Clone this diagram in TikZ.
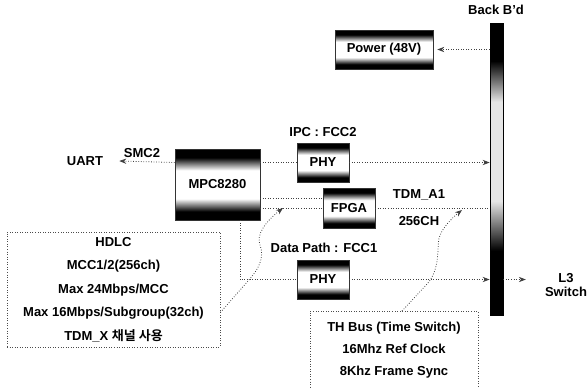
\documentclass[tikz,border=0pt]{standalone}
\usepackage{fontspec}
\setmainfont{Liberation Sans}
\newfontfamily\krfont{Noto Sans CJK KR}[BoldFont={* Bold}]
\usetikzlibrary{arrows.meta}

\pgfdeclareverticalshading{chip}{100bp}{color(0bp)=(black); color(31bp)=(black); color(40bp)=(white); color(60bp)=(white); color(69bp)=(black); color(100bp)=(black)}
\pgfdeclareverticalshading{backbd}{100bp}{color(0bp)=(black); color(36bp)=(black); color(44.5bp)=(black!10); color(61.5bp)=(black!10); color(68.5bp)=(black); color(100bp)=(black)}

\begin{document}
\begin{tikzpicture}[x=0.2mm,y=-0.2mm,
  font=\bfseries\fontsize{7.4}{9}\selectfont,
  chip/.style={shade,shading=chip,draw=black!80,line width=0.3pt,inner sep=0pt,minimum width=10.4mm,minimum height=7.8mm},
  link/.style={densely dotted,line width=0.45pt,black!75},
  note/.style={draw=black!70,densely dotted,line width=0.45pt,align=center,inner sep=0pt},
  tip/.style={-{Stealth[length=4pt,width=3pt]}}]

\useasboundingbox (0,0) rectangle (587,387);

% back board
\node[shade,shading=backbd,draw=black,minimum width=2.6mm,minimum height=58.4mm,inner sep=0pt] (bar) at (496.5,169) {};
\node (bbd) at (496,10) {Back B'd};

% blocks
\node[chip,minimum width=19.6mm] (power) at (384,49.5) {Power (48V)};
\node[chip,minimum width=17mm,minimum height=14.2mm] (mpc) at (217.5,184.5) {MPC8280};
\node[chip] (phyA) at (323,162.5) {PHY};
\node[chip,minimum height=8mm] (fpga) at (349,208) {FPGA};
\node[chip] (phyB) at (323,279.5) {PHY};

% labels
\node (uart) at (85,161) {UART};
\node (smc) at (142,153) {SMC2};
\node (ipc) at (323,132) {IPC : FCC2};
\node (dpath) at (324,248) {Data Path : FCC1};
\node (tdm) at (419,195) {TDM\_A1};
\node (ch) at (419,221) {256CH};
\node[align=center,font=\bfseries\fontsize{7.4}{8}\selectfont] (l3) at (566,285) {L3\\Switch};

% links
\draw[link,tip] (bar.west |- power.east) -- ([xshift=0.8mm]power.east);
\draw[link,tip] (mpc.west |- phyA.west) -- ([xshift=2mm]uart.east);
\draw[link] (mpc.east |- phyA.west) -- (phyA.west);
\draw[link,tip] (phyA.east) -- (bar.west |- phyA.east);
\coordinate (fpgaA) at ([yshift=2mm]fpga.west);
\draw[link] (mpc.east |- fpgaA) -- (fpgaA);
\draw[link] (mpc.east |- fpga.west) -- (fpga.west);
\draw[link] (fpga.east) -- (bar.west |- fpga.east);
\coordinate (mpcB) at ([xshift=4.5mm]mpc.south);
\draw[link] (mpcB) |- (phyB.west);
\draw[link,tip] (phyB.east) -- (bar.west |- phyB.east);
\coordinate (l3in) at ([xshift=-2.6mm]l3.west |- phyB.east);
\draw[link,tip] (bar.east |- phyB.east) -- (l3in);

% notes
\node[note,minimum width=42.6mm,minimum height=23mm,font=\bfseries\fontsize{7.4}{13.3}\selectfont] (hdlc) at (113.5,289.5) {HDLC\\MCC1/2(256ch)\\Max 24Mbps/MCC\\Max 16Mbps/Subgroup(32ch)\\TDM\_X {\krfont 채널 사용}};
\node[note,minimum width=33.6mm,minimum height=15.6mm,anchor=north,font=\bfseries\fontsize{7.4}{12.5}\selectfont] (th) at (394,311) {TH Bus (Time Switch)\\16Mhz Ref Clock\\8Khz Frame Sync};

\coordinate (hdlcOut) at ([yshift=7mm]hdlc.south east);
\coordinate (hdlcTip) at (283,208);
\draw[link,tip] (hdlcOut) -- (248,281) .. controls (258,270) and (265,258) .. (260,245) .. controls (256,235) and (265,222) .. (hdlcTip);
\coordinate (thOut) at ([xshift=1.6mm]th.north);
\coordinate (thTip) at (462,210);
\draw[link,tip] (thOut) -- (428,283) .. controls (440,268) and (437,250) .. (439,238) .. controls (442,228) and (452,218) .. (thTip);

\end{tikzpicture}
\end{document}
